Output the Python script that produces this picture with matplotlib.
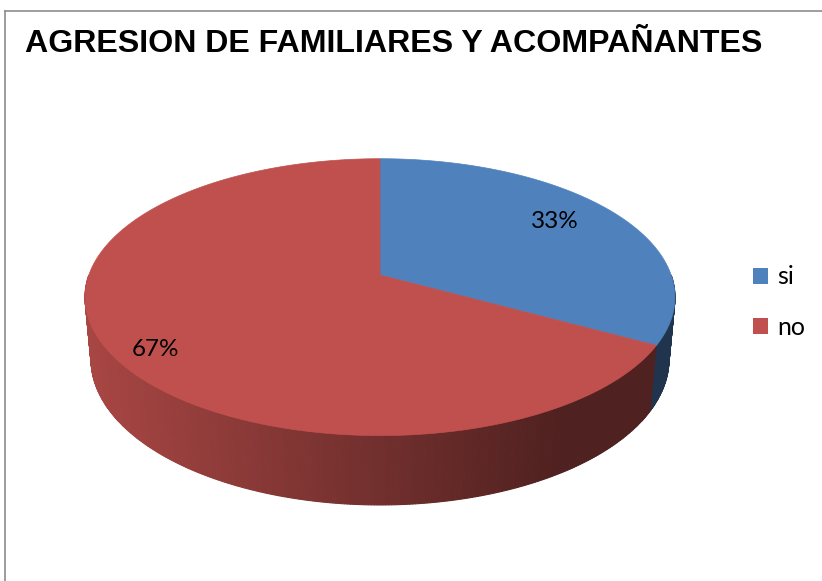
import numpy as np
import matplotlib
matplotlib.use("Agg")
import matplotlib.pyplot as plt
from matplotlib.patches import Polygon, Patch
from matplotlib.lines import Line2D

# datos
title = "AGRESION DE FAMILIARES Y ACOMPAÑANTES"
labels = ["si", "no"]
values = [33, 67]
colors = ["#4f81bd", "#c0504d"]

W, H = 822, 581
fig = plt.figure(figsize=(W / 100, H / 100), dpi=100)
ax = fig.add_axes([0, 0, 1, 1])
ax.set_xlim(0, W); ax.set_ylim(H, 0); ax.axis("off")

# marco del grafico (solo arriba e izquierda visibles)
ax.add_line(Line2D([5, W], [11, 11], color="#8c8c8c", lw=1.2))
ax.add_line(Line2D([5, 5], [11, H], color="#8c8c8c", lw=1.2))

# proyeccion en perspectiva de un disco
cx, cy = 380, 275
elev = np.radians(27.6)
d0, foc, depth = 5.54, 1613, 0.244

def proj(X, Z, Y=0.0):
    yv = Y * np.cos(elev) + Z * np.sin(elev)
    zv = d0 + Z * np.cos(elev) - Y * np.sin(elev)
    return cx + foc * X / zv, cy - foc * yv / zv

def pt(t, Y=0.0):
    r = np.radians(t)
    return proj(np.cos(r), np.sin(r), Y)

def shade(rgb, x):
    k = 0.88 - 0.47 * np.clip((x - 85) / (560 - 85), 0, 1)
    return tuple(c * k for c in rgb)

fr = np.array(values, float) / sum(values)
starts = 90 - 360 * np.concatenate([[0], np.cumsum(fr)[:-1]])
ends = starts - 360 * fr

# pared lateral (mitad frontal, de atras hacia adelante)
steps = np.linspace(-180, 0, 361)
segs = []
for a, b in zip(steps[:-1], steps[1:]):
    m = 0.5 * (a + b)
    idx = 0
    for i, (s, e) in enumerate(zip(starts, ends)):
        mm = m
        while mm > s: mm -= 360
        while mm < e: mm += 360
        if e <= mm <= s:
            idx = i
    segs.append((np.sin(np.radians(m)), a, b, idx))
segs.sort(key=lambda s: -s[0])
for _, a, b, idx in segs:
    p = [pt(a), pt(b), pt(b, -depth), pt(a, -depth)]
    xm = np.mean([q[0] for q in p])
    c = shade(matplotlib.colors.to_rgb(colors[idx]), xm)
    ax.add_patch(Polygon(p, closed=True, fc=c, ec=c, lw=0.8))

# cara superior
for s, e, c in zip(starts, ends, colors):
    ts = np.linspace(s, e, 200)
    p = [(cx, cy)] + [pt(t) for t in ts]
    ax.add_patch(Polygon(p, closed=True, fc=c, ec=c, lw=0.5))

# etiquetas de porcentaje
label_pos = [(555, 221), (155, 349)]
for v, (x, y) in zip(values, label_pos):
    ax.text(x, y, f"{v}%", fontsize=17.5, family=["Lato", "DejaVu Sans"],
            ha="center", va="center", color="black")

# titulo ajustado al ancho
t = ax.text(25, 52, title, fontsize=24, fontweight="bold",
            family=["Liberation Sans", "DejaVu Sans"], ha="left", va="baseline")
fig.canvas.draw()
bw = t.get_window_extent().width
t.set_fontsize(24 * 737 / bw)

# leyenda
handles = [Patch(fc=c, ec="none") for c in colors]
ax.legend(handles, labels, loc="upper left", bbox_to_anchor=(735 / W, 1 - 248 / H),
          frameon=False, prop={"family": ["Lato", "DejaVu Sans"], "size": 18},
          handlelength=0.62, handleheight=0.62, handletextpad=0.35,
          labelspacing=1.1, borderpad=0.2)

fig.savefig("out.png", dpi=100)
